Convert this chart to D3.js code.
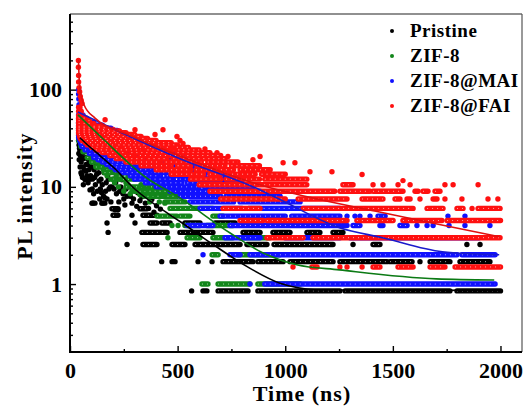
<!DOCTYPE html>
<html>
<head>
<meta charset="utf-8">
<script src="https://d3js.org/d3.v7.min.js"></script>
<style>
  body { margin: 0; background: #fff; }
  text { font-family: "Liberation Serif", "Times New Roman", serif; font-weight: bold; fill: #000; }
</style>
</head>
<body>
<script>
// TRPL decay. Counts are quantized, so most of the
// tail is horizontal streaks of dots: runs are [level, tStart, tEnd] (ns),
// dots are single points [t, value]. Fits are read along the drawn curves.

const seriesNames = ["Pristine", "ZIF-8", "ZIF-8@MAI", "ZIF-8@FAI"];

const xTicks = [0, 500, 1000, 1500, 2000];
const xMinor = [250, 750, 1250, 1750];
const yTicks = [1, 10, 100];
const yMinor = [0.3, 0.4, 0.5, 0.6, 0.7, 0.8, 0.9, 2, 3, 4, 5, 6, 7, 8, 9,
                20, 30, 40, 50, 60, 70, 80, 90, 200, 300, 400, 500];

// Pristine
const pristineDots = [
  [40,30],[42,27],[44,25],[46,24],[48,21],[50,26],[52,18],[54,13.4],[57,22],[60,16],
  [63,19.5],[66,23],[70,11.8],[73,14.5],[77,20],[81,17],[84,11],[88,15],[93,9.3],[96,13],
  [100,18],[104,12],[107,6.8],[112,15],[118,10.5],[124,13.5],[130,16],[135,11.5],[141,9.5],
  [147,8.7],[153,6.8],[158,14],[162,7.7],[168,11],[175,13],[181,9.5],[187,10],[195,10],
  [201,12],[209,5.8],[216,8.5],[223,5.8],[231,9],[241,11.8],[250,7.5],[260,9.5],[269,10.5],
  [280,8],[288,6.8],[301,9.3],[315,8.7],[334,7.9],[350,6.8],[380,7.4],[402,6.4],[420,5.9],
  [41,22],[43,19],[47,16],[51,14],[55,24],[58,12.5],[62,10.5],[67,15],[71,20],[75,17],
  [79,13],[86,19],[90,12],[98,16],[103,9.5],[110,8.5],[115,12.5],[121,17],[127,9],[133,14],
  [138,7.5],[144,12],[150,10.5],[156,8],[165,9],[172,7.5],[178,12],[190,7],[205,9.5],[212,11],
  [227,7],[236,10],[246,8.5],[255,6.5],[265,8],[275,10],[295,7.5],[310,6.3],[325,7.2],[340,8.5],
  [365,6],[390,5.5],
  [565,0.85],[426,1.7],[595,1.7],[660,1.7],[265,2.55],[1315,2.55],[1844,2.55],[1905,2.55],
  [177,3.4],[172,4.25],[302,4.25],[976,4.25],[1129,4.25],[288,5.1]
];
const pristineRuns = [
  [0.85,618,636],[0.85,688,827],[0.85,873,1254],[0.85,1278,1765],[0.85,1798,2000],
  [1.7,474,488],[1.7,711,850],[1.7,873,990],[1.7,1022,1222],[1.7,1254,1473],[1.7,1487,1589],
  [1.7,1626,1626],[1.7,1673,1765],[1.7,1812,1951],
  [2.55,339,404],[2.55,474,534],[2.55,581,790],[2.55,822,915],[2.55,948,1222],[2.55,1408,1440],
  [3.4,334,451],[3.4,511,664],[3.4,804,883],[3.4,943,1022],[3.4,1101,1161],[3.4,1222,1268],
  [4.25,372,404],[4.25,427,465],[4.25,534,604],[4.25,674,767],
  [5.1,200,223],[5.1,339,404],[5.95,195,223],[5.95,325,358],[6.8,102,116],[6.8,148,162]
];
const pristineFit = [
  [46,32],[90,26],[139,21],[200,16],[301,9.5],[420,6],[511,4.4],[666,2.54],[821,1.52],
  [976,1.02],[1053,0.92],[1150,0.87],[2000,0.86]
];

// ZIF-8
const zifDots = [
  [40,50],[42,45],[45,40],[50,38],[55,33],[60,42],[65,30],[70,36],[78,27],[85,32],[92,25],
  [100,28],[108,22],[115,26],[122,19],[130,23],[140,17.5],[148,21],[155,15],[163,18],[172,13],
  [180,16],[190,12],[198,14.5],[207,11],[215,13],[225,10],[233,12],[241,13.4],[250,9],[260,11],
  [270,13],[280,8.5],[288,9],[300,12],[310,9],[325,8.3],[330,10.5],[345,8],[355,9.5],[370,7],
  [385,8.5],[400,10],[415,7],[430,8],[441,6.8],[455,3],[474,4],[502,4]
];
const zifRuns = [
  [1,613,641],[1,688,836],[1,873,1069],
  [2,660,688],[2,780,975],
  [3,544,604],[3,664,757],[3,790,929],
  [4,534,604],[4,636,757],
  [5,404,497],[5,511,557],[5,664,711],
  [6,465,664],[7,441,534],[8,360,500],[9,300,470],[10,260,420],[12,200,380],[14,160,330],
  [16,120,290],[18,100,250],[20,80,220],[23,60,190],[26,50,160],[30,40,120],[35,40,90],
  [40,40,70],[46,40,55]
];
const zifFit = [
  [37,55],[148,32],[348,12.7],[510,7.7],[742,3.37],[895,2.1],[1053,1.58],[1252,1.4],
  [1702,1.13],[1971,1.1]
];

// ZIF-8@MAI
const maiDots = [
  [40,100],[40,90],[41,80],[42,70],[45,62],[836,1],[618,2],[455,25.7],
  [1287,5],[1324,5],[1347,5],[1394,5],[1756,5],[1835,5],
  [1612,4],[1659,4],[1687,4],[1761,4],[1835,4],[1951,4]
];
const maiRuns = [
  [1,905,1975],
  [2,743,790],[2,836,1798],[2,1821,1975],
  [3,720,883],[3,999,1254],[3,1301,1900],
  [4,544,664],[4,743,1254],[4,1268,1287],[4,1315,1347],[4,1440,1454],[4,1533,1566],
  [5,697,1000],[5,1030,1254],[5,1431,1464],
  [6,604,800],[6,830,1254],[7,557,760],[7,790,1069],[8,511,700],[8,725,976],[9,465,640],[9,670,883],
  [10,400,600],[10,625,850],[11,350,520],[11,545,800],[12,300,480],[12,510,790],
  [13,280,420],[13,450,720],[14,240,380],[14,410,700],[15,210,360],[15,390,650],
  [16,190,300],[16,330,620],[17,170,440],[17,470,600],[18,150,300],[18,330,580],
  [19,130,400],[19,430,550],[20,110,250],[20,280,530],[22,90,300],[22,330,480],
  [24,70,220],[24,250,440],[26,55,400],[28,50,180],[28,210,370],[30,45,330],
  [32,40,150],[32,180,300],[34,40,270],[36,40,250],[38,40,220],[40,40,190],[43,40,150],
  [46,40,110],[50,40,80],[55,40,60]
];
const maiFit = [
  [37,59],[278,33],[511,19.5],[883,9.3],[976,7.4],[1252,3.8],[1452,3.0],[1730,2.15],[1994,2.0]
];

// ZIF-8@FAI
const faiDots = [
  [39,200],[39,170],[40,140],[40,120],[42,105],[45,95],[48,85],[52,78],[56,72],
  [163,49],[302,38.7],[432,38.7],[395,34.5],[497,33],[511,30],[525,28],[479,25],[627,24.5],
  [683,22.5],[734,20.5],[850,19],[883,20.5],[990,17.7],[1045,17.7],[1115,14.3],[1217,14.3],
  [1357,13.4],[1547,11.6],[1742,10.5],[1780,10.5],[1896,10.5],[1821,7.5],[1942,7.5],[1988,7.5],
  [1036,1.5],[1254,1.5],[1287,1.5],[1357,1.5],[1868,6]
];
const faiRuns = [
  [1.5,1124,1148],[1.5,1408,1440],[1.5,1524,1594],[1.5,1673,1742],[1.5,1789,2000],
  [3,915,1083],[3,1129,1998],
  [4.5,790,897],[4.5,915,1287],[4.5,1333,1501],[4.5,1547,1728],[4.5,1752,2000],
  [6,711,883],[6,1083,1594],[6,1659,1733],[6,1798,1826],[6,1896,1998],
  [7.5,700,1000],[7.5,1060,1287],[7.5,1357,1454],[7.5,1510,1533],[7.5,1566,1580],
  [7.5,1626,1626],[7.5,1687,1705],[7.5,1742,1742],
  [9,650,1230],[9,1254,1394],[9,1408,1547],[9,1603,1617],[9,1640,1663],[9,1696,1719],
  [10.5,600,1100],[10.5,1268,1315],[10.5,1408,1408],[10.5,1454,1454],[10.5,1524,1524],[10.5,1580,1580],
  [12,560,700],[12,725,880],[12,905,1100],
  [13.5,470,620],[13.5,650,700],[13.5,730,860],[13.5,890,1000],
  [15,400,560],[15,585,760],[15,790,930],
  [16.5,330,470],[16.5,500,560],[16.5,590,720],[16.5,750,880],
  [18,260,420],[18,445,610],[18,640,780],
  [19.5,215,340],[19.5,365,450],[19.5,480,720],
  [21,185,300],[21,325,520],[21,545,700],
  [22.5,150,260],[22.5,285,470],[22.5,500,650],
  [24,120,330],[24,360,450],[24,480,600],
  [25.5,100,230],[25.5,255,420],[25.5,450,550],
  [27,80,200],[27,225,380],[27,410,500],
  [28.5,70,310],[28.5,340,470],
  [30,55,180],[30,205,400],
  [31.5,48,260],[31.5,290,360],
  [33,45,150],[33,175,330],
  [34.5,42,300],
  [36,40,120],[36,150,260],
  [37.5,40,230],
  [39,40,100],[39,130,200],
  [40.5,40,170],[42,40,150],
  [45,40,110],[48,40,90],[51,40,75],[54,40,60],[60,40,52],[66,40,46]
];
const faiFit = [
  [39.4,203],[41.7,142],[46,105],[65,70],[116,51],[278,34],[533,19.9],[881,10.5],[1160,7.4],
  [1438,5.5],[1716,4.1],[1994,3.07]
];

window.onload = function() {

  const WIDTH = 523;
  const HEIGHT = 409;
  const PLOT = {left: 70, right: 522, top: 14, bottom: 352};
  const R = 2.7;

  const series = [
    {dots: pristineDots, runs: pristineRuns, fit: pristineFit, color: '#000000', line: '#000000'},
    {dots: zifDots, runs: zifRuns, fit: zifFit, color: '#12861a', line: '#0b7a14'},
    {dots: maiDots, runs: maiRuns, fit: maiFit, color: '#1010ff', line: '#1a1acc'},
    {dots: faiDots, runs: faiRuns, fit: faiFit, color: '#ff1010', line: '#e01010'}
  ];

  const SVG = d3.select('body')
                .append('svg')
                .attr('width', WIDTH)
                .attr('height', HEIGHT)
                .style('display', 'block');

  const xScale = d3.scaleLinear()
                   .domain([0, 2100])
                   .range([PLOT.left, PLOT.right]);
  const yScale = d3.scaleLog()
                   .domain([0.2, 600])
                   .range([PLOT.bottom, PLOT.top]);

  SVG.append('clipPath').attr('id', 'plot')
     .append('rect')
     .attr('x', PLOT.left).attr('y', PLOT.top)
     .attr('width', PLOT.right - PLOT.left).attr('height', PLOT.bottom - PLOT.top);

  const marks = SVG.append('g').attr('clip-path', 'url(#plot)');

  // scatter, one series on top of the other
  series.forEach(function(s) {
    const g = marks.append('g');

    g.selectAll('line.run')
     .data(s.runs)
     .enter()
     .append('line')
     .attr('class', 'run')
     .attr('x1', d => xScale(d[1]))
     .attr('x2', d => xScale(d[2]))
     .attr('y1', d => yScale(d[0]))
     .attr('y2', d => yScale(d[0]))
     .attr('stroke', s.color)
     .attr('stroke-width', 2 * R)
     .attr('stroke-linecap', 'round');

    // white glints inside the streaks
    g.selectAll('line.glint')
     .data(s.runs.filter(d => d[2] - d[1] > 20))
     .enter()
     .append('line')
     .attr('class', 'glint')
     .attr('x1', d => xScale(d[1]))
     .attr('x2', d => xScale(d[2]))
     .attr('y1', d => yScale(d[0]))
     .attr('y2', d => yScale(d[0]))
     .attr('stroke', '#fff')
     .attr('stroke-width', 1)
     .attr('stroke-dasharray', '1 4')
     .attr('opacity', 0.65);

    g.selectAll('circle')
     .data(s.dots)
     .enter()
     .append('circle')
     .attr('cx', d => xScale(d[0]))
     .attr('cy', d => yScale(d[1]))
     .attr('r', R)
     .attr('fill', s.color);
  });

  // fitted curves on top
  const line = d3.line()
                 .x(d => xScale(d[0]))
                 .y(d => yScale(d[1]))
                 .curve(d3.curveMonotoneX);

  series.forEach(function(s) {
    marks.append('path')
         .datum(s.fit)
         .attr('d', line)
         .attr('fill', 'none')
         .attr('stroke', s.line)
         .attr('stroke-width', 1.6);
  });

  // frame
  SVG.append('line').attr('x1', PLOT.left).attr('x2', PLOT.right).attr('y1', PLOT.top).attr('y2', PLOT.top)
     .attr('stroke', '#222').attr('stroke-width', 1.2);
  SVG.append('line').attr('x1', PLOT.right).attr('x2', PLOT.right).attr('y1', PLOT.top).attr('y2', PLOT.bottom)
     .attr('stroke', '#555').attr('stroke-width', 1.2);
  SVG.append('line').attr('x1', PLOT.left).attr('x2', PLOT.left).attr('y1', PLOT.top).attr('y2', PLOT.bottom + 1)
     .attr('stroke', '#000').attr('stroke-width', 2);
  SVG.append('line').attr('x1', PLOT.left - 1).attr('x2', PLOT.right).attr('y1', PLOT.bottom).attr('y2', PLOT.bottom)
     .attr('stroke', '#000').attr('stroke-width', 2);

  // axes, ticks pointing inwards
  SVG.append('g')
     .attr('transform', 'translate(0,' + PLOT.bottom + ')')
     .call(d3.axisBottom(xScale).tickValues(xTicks).tickSize(-6).tickPadding(10).tickFormat(d3.format('d')));
  SVG.append('g')
     .attr('transform', 'translate(0,' + PLOT.bottom + ')')
     .call(d3.axisBottom(xScale).tickValues(xMinor).tickSize(-3).tickFormat(''));

  SVG.append('g')
     .attr('transform', 'translate(' + PLOT.left + ',0)')
     .call(d3.axisLeft(yScale).tickValues(yTicks).tickSize(-6).tickPadding(8).tickFormat(d3.format('d')));
  SVG.append('g')
     .attr('transform', 'translate(' + PLOT.left + ',0)')
     .call(d3.axisLeft(yScale).tickValues(yMinor).tickSize(-3).tickFormat(''));

  SVG.selectAll('.domain').remove();
  SVG.selectAll('.tick line').attr('stroke', '#000').attr('stroke-width', 1.4);
  SVG.selectAll('.tick text').style('font-size', '22px');

  // axis titles
  SVG.append('text')
     .attr('x', 302)
     .attr('y', 401)
     .attr('text-anchor', 'middle')
     .style('font-size', '22px')
     .style('letter-spacing', '1px')
     .text('Time (ns)');

  SVG.append('text')
     .attr('transform', 'translate(32,196) rotate(-90)')
     .attr('text-anchor', 'middle')
     .style('font-size', '22px')
     .style('letter-spacing', '1.2px')
     .text('PL intensity');

  // legend
  const legend = SVG.append('g');
  seriesNames.forEach(function(name, i) {
    const yy = 31 + i * 25;
    legend.append('circle')
          .attr('cx', 392)
          .attr('cy', yy)
          .attr('r', 2)
          .attr('fill', series[i].color);
    legend.append('text')
          .attr('x', 410)
          .attr('y', yy + 6)
          .style('font-size', '19px')
          .style('letter-spacing', '0.5px')
          .text(name);
  });
}
</script>
</body>
</html>
